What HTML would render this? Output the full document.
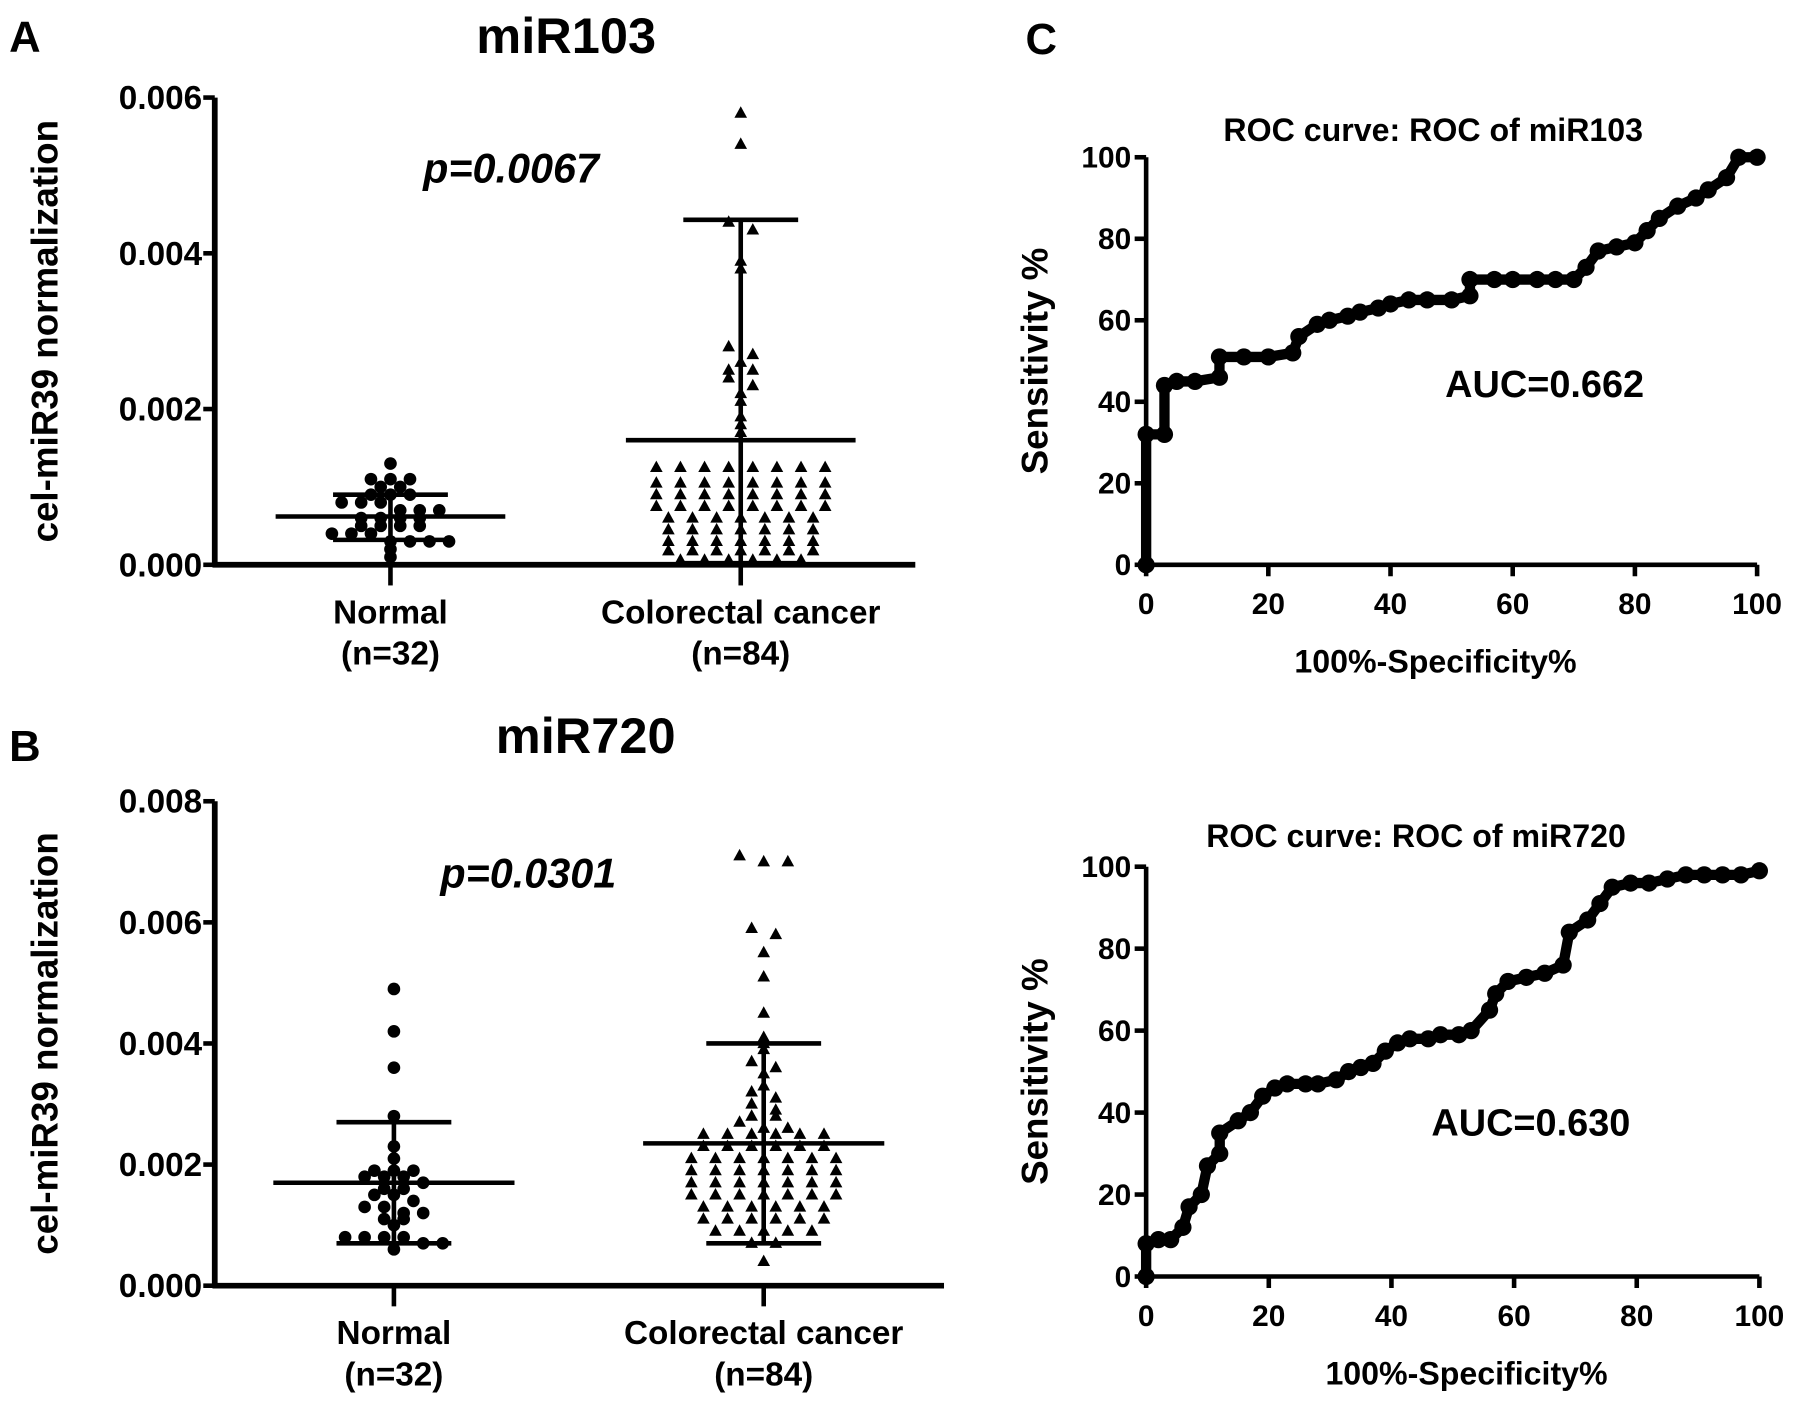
<!DOCTYPE html>
<html><head><meta charset="utf-8"><style>
html,body{margin:0;padding:0;background:#fff}
svg{display:block}
text{font-family:"Liberation Sans",Arial,sans-serif;font-weight:bold;fill:#000}
</style></head><body>
<svg id="fig" width="1795" height="1420" viewBox="0 0 1563 1237" preserveAspectRatio="none" xmlns="http://www.w3.org/2000/svg">
<rect width="1563" height="1237" fill="#fff"/>
<text x="8" y="45" font-size="38">A</text>
<text x="8" y="663" font-size="38">B</text>
<text x="893" y="47" font-size="38">C</text>
<text x="493" y="46" font-size="44" text-anchor="middle">miR103</text>
<text x="510" y="656" font-size="44" text-anchor="middle">miR720</text>
<text x="445" y="159" font-size="36" font-style="italic" text-anchor="middle">p=0.0067</text>
<text x="460" y="773" font-size="36" font-style="italic" text-anchor="middle">p=0.0301</text>
<g id="gA"></g><g id="gB"></g><g id="gC1"></g><g id="gC2"></g>
</svg>
<script>
// Panel A data
const catsA = ["Normal", "Colorectal cancer"];
const nA = ["(n=32)", "(n=84)"];
const ticksA = [0, 0.002, 0.004, 0.006];
const normalA = [0.0013,0.0011,0.0011,0.0011,0.001,0.001,0.0009,0.0009,0.0009,0.0008,0.0008,0.0008,0.0007,0.0007,0.0007,0.0006,0.0006,0.0006,0.0006,0.0005,0.0005,0.0005,0.0005,0.0004,0.0004,0.0004,0.0003,0.0003,0.0003,0.0003,0.0002,0.0001];
const cancerA = [0.0058,0.0054,0.0044,0.0043,0.0039,0.0038,0.0028,0.0027,0.0026,0.0025,0.0025,0.0024,0.0023,0.0022,0.0021,0.0019,0.0018,0.0017,
0.00125,0.00125,0.00125,0.00125,0.00125,0.00125,0.00125,0.00125,0.00105,0.00105,0.00105,0.00105,0.00105,0.00105,0.00105,0.00105,
0.0009,0.0009,0.0009,0.0009,0.0009,0.0009,0.0009,0.0009,0.00075,0.00075,0.00075,0.00075,0.00075,0.00075,0.00075,0.00075,
0.0006,0.0006,0.0006,0.0006,0.0006,0.0006,0.0006,0.00045,0.00045,0.00045,0.00045,0.00045,0.00045,0.00045,
0.0003,0.0003,0.0003,0.0003,0.0003,0.0003,0.0003,0.00018,0.00018,0.00018,0.00018,0.00018,0.00018,0.00018,0.00006,0.00006,0.00006,0.00006,0.00006,0.00006];
const statsA = [[0.00062,0.0009,0.00032],[0.0016,0.00443,0.00002]];
// Panel B data
const catsB = ["Normal", "Colorectal cancer"];
const nB = ["(n=32)", "(n=84)"];
const ticksB = [0, 0.002, 0.004, 0.006, 0.008];
const normalB = [0.0049,0.0042,0.0036,0.0028,0.0023,0.0021,0.0019,0.0019,0.0019,0.0018,0.0018,0.0018,0.0017,0.0016,0.0016,0.0015,0.0015,0.0014,0.0013,0.0013,0.0012,0.0012,0.0011,0.0011,0.0010,0.0008,0.0008,0.0008,0.0008,0.0007,0.0007,0.0006];
const cancerB = [0.0071,0.0070,0.0070,0.0059,0.0058,0.0055,0.0051,0.0045,0.0041,0.0040,0.0039,0.0037,0.0036,0.0035,0.0033,0.0032,0.0031,0.0030,0.0029,0.0028,0.0028,0.0027,0.0026,0.0026,
0.0025,0.0025,0.0025,0.0025,0.0025,0.0025,0.0023,0.0023,0.0023,0.0023,0.0023,0.0023,
0.0021,0.0021,0.0021,0.0021,0.0021,0.0021,0.0021,0.0019,0.0019,0.0019,0.0019,0.0019,0.0019,0.0019,
0.0017,0.0017,0.0017,0.0017,0.0017,0.0017,0.0017,0.0015,0.0015,0.0015,0.0015,0.0015,0.0015,0.0015,
0.0013,0.0013,0.0013,0.0013,0.0013,0.0013,0.0011,0.0011,0.0011,0.0011,0.0011,0.0011,
0.0009,0.0009,0.0009,0.0009,0.0009,0.0007,0.0007,0.0004];
const statsB = [[0.0017,0.0027,0.0007],[0.00235,0.0040,0.0007]];
// ROC data
const rocTicks = [0,20,40,60,80,100];
const roc1X = [0,0,3,3,5,8,12,12,16,20,24,25,28,30,33,35,38,40,43,46,50,53,53,57,60,64,67,70,72,74,77,80,82,84,87,90,92,95,97,100];
const roc1Y = [0,32,32,44,45,45,46,51,51,51,52,56,59,60,61,62,63,64,65,65,65,66,70,70,70,70,70,70,73,77,78,79,82,85,88,90,92,95,100,100];
const roc2X = [0,0,2,4,6,7,9,10,12,12,15,17,19,21,23,26,28,31,33,35,37,39,41,43,46,48,51,53,56,57,59,62,65,68,69,72,74,76,79,82,85,88,91,94,97,100];
const roc2Y = [0,8,9,9,12,17,20,27,30,35,38,40,44,46,47,47,47,48,50,51,52,55,57,58,58,59,59,60,65,69,72,73,74,76,84,87,91,95,96,96,97,98,98,98,98,99];

const NS="http://www.w3.org/2000/svg";
function mk(parent,tag,attrs,txt){const e=document.createElementNS(NS,tag);for(const k in attrs)e.setAttribute(k,attrs[k]);if(txt!==undefined)e.textContent=txt;parent.appendChild(e);return e;}

function scatterPanel(g,cfg){
  const x0=cfg.x0,x1=cfg.x1,yTop=cfg.yTop,yBot=cfg.yBot,max=cfg.ticks[cfg.ticks.length-1];
  const sy=v=>yBot-(v/max)*(yBot-yTop);
  const yAxis=mk(g,'line',{x1:x0,y1:yTop,x2:x0,y2:yBot,stroke:'#000','stroke-width':5});
  
  
  const xAxis=mk(g,'line',{x1:x0-2,y1:yBot,x2:x1,y2:yBot,stroke:'#000','stroke-width':5});
  
  
  cfg.ticks.forEach(t=>{
    mk(g,'line',{x1:x0-10,y1:sy(t),x2:x0,y2:sy(t),stroke:'#000','stroke-width':4});
    const tl=mk(g,'text',{x:x0-11,y:sy(t)+10,'font-size':29,'text-anchor':'end'},t.toFixed(3));
    
    
  });
  const yl=mk(g,'text',{x:0,y:0,'font-size':32,'text-anchor':'middle',transform:`translate(${cfg.ylx},${(yTop+yBot)/2}) rotate(-90)`},'cel-miR39 normalization');
  
  
  const groups=[cfg.normal,cfg.cancer];
  cfg.cx.forEach((cx,i)=>{
    mk(g,'line',{x1:cx,y1:yBot,x2:cx,y2:yBot+18,stroke:'#000','stroke-width':4});
    const c=mk(g,'text',{x:cx,y:yBot+51,'font-size':29,'text-anchor':'middle'},cfg.cats[i]);
    
    
    const n=mk(g,'text',{x:cx,y:yBot+87,'font-size':29,'text-anchor':'middle'},cfg.n[i]);
    
    
    const rows={};
    groups[i].forEach(v=>{
      const y=sy(v);const key=Math.round(y/9);
      rows[key]=rows[key]||[];rows[key].push(y);
    });
    const sp=i===0?cfg.sp:cfg.sp2;
    Object.values(rows).forEach(arr=>{
      arr.forEach((y,j)=>{
        const off=(j-(arr.length-1)/2)*sp;
        const px=cx+off;
        let m;
        if(i===0){m=mk(g,'circle',{cx:px,cy:y,r:5.5,fill:'#000'});}
        else{m=mk(g,'polygon',{points:`${px},${y-6} ${px-5.5},${y+4} ${px+5.5},${y+4}`,fill:'#000'});}
        
        
      });
    });
    const st=cfg.stats[i];
    const mean=mk(g,'line',{x1:cx-cfg.mw,y1:sy(st[0]),x2:cx+cfg.mw,y2:sy(st[0]),stroke:'#000','stroke-width':4});
    
    
    const sd=mk(g,'line',{x1:cx,y1:sy(st[1]),x2:cx,y2:sy(st[2]),stroke:'#000','stroke-width':4});
    
    
    [st[1],st[2]].forEach(v=>{
      const cap=mk(g,'line',{x1:cx-cfg.cw,y1:sy(v),x2:cx+cfg.cw,y2:sy(v),stroke:'#000','stroke-width':4});
      
      
    });
  });
}
scatterPanel(document.getElementById('gA'),{x0:187,x1:797,yTop:85,yBot:492,ticks:ticksA,cats:catsA,n:nA,cx:[340,645],normal:normalA,cancer:cancerA,stats:statsA,mw:100,cw:50,sp:17,sp2:21,ylx:50});
scatterPanel(document.getElementById('gB'),{x0:187,x1:822,yTop:698,yBot:1120,ticks:ticksB,cats:catsB,n:nB,cx:[343,665],normal:normalB,cancer:cancerB,stats:statsB,mw:105,cw:50,sp:17,sp2:21,ylx:50});

function rocPanel(g,cfg){
  const sx=v=>cfg.x0+v/100*(cfg.x1-cfg.x0), sy=v=>cfg.y0-v/100*(cfg.y0-cfg.y1);
  const ya=mk(g,'line',{x1:cfg.x0,y1:sy(100),x2:cfg.x0,y2:cfg.y0,stroke:'#000','stroke-width':4});
  
  
  const xa=mk(g,'line',{x1:cfg.x0,y1:cfg.y0,x2:cfg.x1,y2:cfg.y0,stroke:'#000','stroke-width':4});
  
  
  rocTicks.forEach(t=>{
    mk(g,'line',{x1:cfg.x0-10,y1:sy(t),x2:cfg.x0,y2:sy(t),stroke:'#000','stroke-width':4});
    const a=mk(g,'text',{x:cfg.x0-13,y:sy(t)+9,'font-size':26,'text-anchor':'end'},t);
    
    
    mk(g,'line',{x1:sx(t),y1:cfg.y0,x2:sx(t),y2:cfg.y0+10,stroke:'#000','stroke-width':4});
    const b=mk(g,'text',{x:sx(t),y:cfg.y0+43,'font-size':26,'text-anchor':'middle'},t);
    
    
  });
  let d='';
  cfg.X.forEach((x,i)=>{d+=(i?'L':'M')+sx(x)+','+sy(cfg.Y[i]);});
  const p=mk(g,'path',{d:d,fill:'none',stroke:'#000','stroke-width':9,'stroke-linejoin':'round'});
  
  
  cfg.X.forEach((x,i)=>{
    const c=mk(g,'circle',{cx:sx(x),cy:sy(cfg.Y[i]),r:7.5,fill:'#000'});
    
    
  });
  const t=mk(g,'text',{x:cfg.tx,y:cfg.ty,'font-size':28,'text-anchor':'middle'},cfg.title);
  
  
  const au=mk(g,'text',{x:cfg.ax,y:cfg.ay,'font-size':33,'text-anchor':'middle'},cfg.auc);
  
  
  const xl=mk(g,'text',{x:cfg.xlx,y:cfg.y0+94,'font-size':28,'text-anchor':'middle'},'100%-Specificity%');
  
  
  const yl=mk(g,'text',{x:0,y:0,'font-size':32,'text-anchor':'middle',transform:`translate(912,${(cfg.y0+sy(100))/2}) rotate(-90)`},'Sensitivity %');
  
  
}
rocPanel(document.getElementById('gC1'),{x0:998,x1:1530,y0:492,y1:137,X:roc1X,Y:roc1Y,title:'ROC curve: ROC of miR103',tx:1248,ty:123,auc:'AUC=0.662',ax:1345,ay:346,xlx:1250});
rocPanel(document.getElementById('gC2'),{x0:998,x1:1532,y0:1112,y1:755,X:roc2X,Y:roc2Y,title:'ROC curve: ROC of miR720',tx:1233,ty:738,auc:'AUC=0.630',ax:1333,ay:989,xlx:1277});
</script>
</body></html>
